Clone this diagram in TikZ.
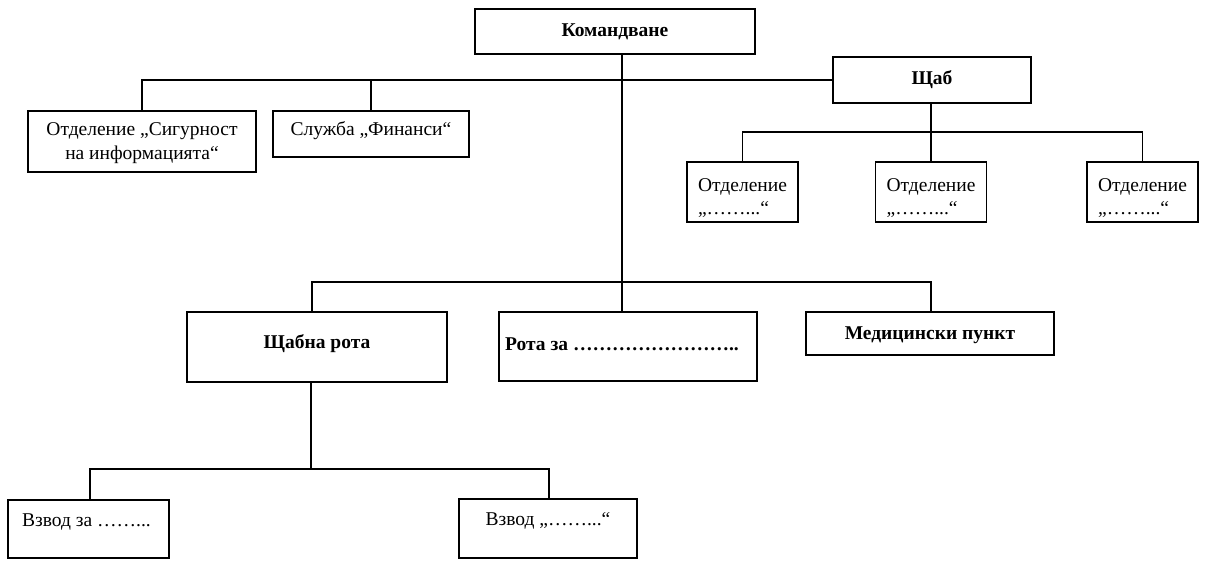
\documentclass[tikz,border=0pt]{standalone}
\usepackage{fontspec}
\setmainfont{Liberation Serif}
\begin{document}
\begin{tikzpicture}[x=1pt,y=-1pt,
  box/.style={draw, line width=1.1pt, inner sep=0pt, minimum width=#1},
  conn/.style={line width=1.1pt},
  txt/.style={inner sep=0pt, font=\fontsize{19.5}{23.5}\selectfont, align=center},
  btxt/.style={inner sep=0pt, font=\fontsize{19.5}{23.5}\selectfont\bfseries, align=center}]
\useasboundingbox (0,0) rectangle (1218,562);
\fill[white] (0,0) rectangle (1218,562);
% boxes
\node[box=280, minimum height=45] (kom) at (615,31.5) {};
\node[box=198, minimum height=46] (shtab) at (932,80) {};
\node[box=228, minimum height=61] (sig) at (142,141.5) {};
\node[box=196, minimum height=46] (fin) at (371,134) {};
\node[box=111, minimum height=60] (o1) at (742.5,192) {};
\node[box=111, minimum height=60] (o2) at (931,192) {};
\node[box=111, minimum height=60] (o3) at (1142.5,192) {};
\node[box=260, minimum height=70] (shr) at (317,347) {};
\node[box=258, minimum height=69] (rza) at (628,346.5) {};
\node[box=248, minimum height=43] (med) at (930,333.5) {};
\node[box=161, minimum height=58] (v1) at (88.5,529) {};
\node[box=178, minimum height=59] (v2) at (548,528.5) {};
% texts
\node[btxt] (komt) at (615,32) {Командване};
\node[btxt] (shtabt) at (932,80) {Щаб};
\node[txt] (sigt) at (142,143) {Отделение „Сигурност\\на информацията“};
\node[txt] (fint) at (371,131) {Служба „Финанси“};
\node[txt, align=left] (o1t) at (742.5,198) {Отделение\\„……...“};
\node[txt, align=left] (o2t) at (931,198) {Отделение\\„……...“};
\node[txt, align=left] (o3t) at (1142.5,198) {Отделение\\„……...“};
\node[btxt] (shrt) at (317,344) {Щабна рота};
\node[btxt, anchor=west] (rzat) at (505,344) {Рота за ……………………..};
\node[btxt] (medt) at (930,335) {Медицински пункт};
\node[txt, anchor=west] (v1t) at (22,522) {Взвод за ……...};
\node[txt] (v2t) at (548,521) {Взвод „……...“};
% junction coordinates
\coordinate (b0) at (622,81);
\coordinate (b1) at (622,282);
\coordinate (b2) at (311,469);
\coordinate (b3) at (931,132);
% connectors
\draw[conn] (kom.south -| b1) -- (b1);
\draw[conn] (sig.north) |- (shtab.west);
\draw[conn] (fin.north) -- (fin.north |- b0);
\draw[conn] (shtab.south -| b3) -- (o2.north -| b3);
\draw[conn] (o1.north) |- (b3) -| (o3.north);
\draw[conn] ([xshift=-5pt]shr.north) |- (b1) -| ([xshift=1pt]med.north);
\draw[conn] (b1) -- (rza.north -| b1);
\draw[conn] (shr.south -| b2) -- (b2);
\draw[conn] ([xshift=1.5pt]v1.north) |- (b2) -| ([xshift=1pt]v2.north);
\end{tikzpicture}
\end{document}
